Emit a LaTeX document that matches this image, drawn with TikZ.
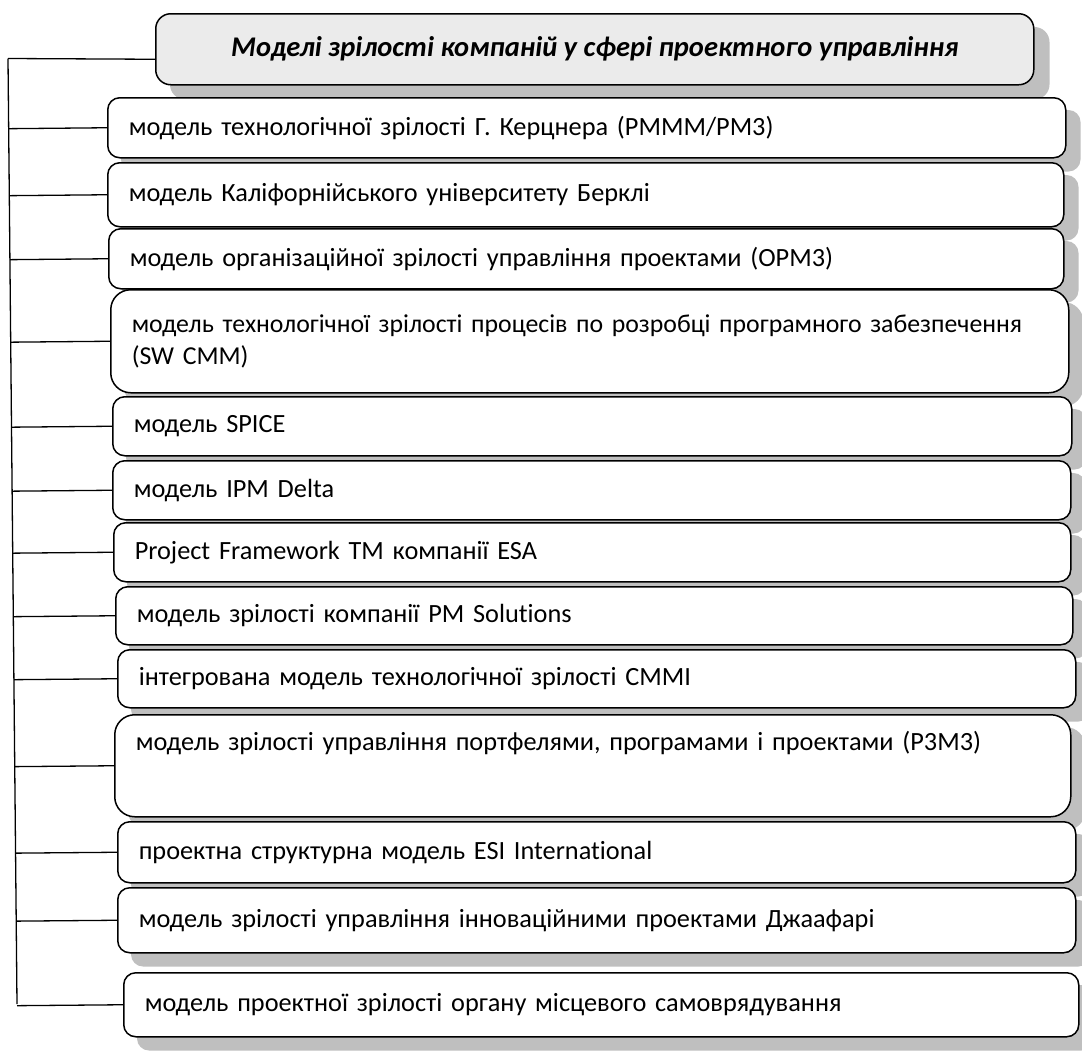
\documentclass[tikz,border=0pt]{standalone}
\usepackage{fontspec}
\setmainfont{Carlito}[Ligatures=NoCommon]
\usetikzlibrary{calc,backgrounds}
\definecolor{shadowgray}{HTML}{BFBFBF}
\definecolor{titlefill}{HTML}{EBEBEB}
\tikzset{
  itembox/.style={draw=black, line width=1.5pt, fill=white, rounded corners=12pt,
    align=left, inner xsep=21pt, inner ysep=0pt, anchor=north west,
    font=\fontsize{26.3}{32}\selectfont},
  tallbox/.style={itembox, rounded corners=20pt},
  titlebox/.style={draw=black, line width=1.5pt, fill=titlefill, rounded corners=15pt,
    align=center, inner sep=0pt, anchor=north west,
    font=\fontsize{28.5}{34}\selectfont\bfseries\itshape},
  conn/.style={draw=black, line width=1.3pt},
  shadowfill/.style={fill=shadowgray},
}
\newcommand{\itemnode}[7]{% style, name, left, top, right, bottom, text
  \pgfmathsetmacro{\bw}{#5-#3-42}
  \pgfmathsetmacro{\bh}{#6-#4}
  \node[#1, text width=\bw pt, minimum height=\bh pt] (#2) at (#3,#4) {#7};
}
\begin{document}
\begin{tikzpicture}[x=1pt,y=-1pt]
\useasboundingbox (0,0) rectangle (1082,1050);
% title
\node[titlebox, minimum width=878pt, minimum height=71pt] (title) at (155,13)
  {Моделі зрілості компаній у сфері проектного управління};
% boxes
\itemnode{itembox}{b1}{107}{97}{1065}{157}{модель технологічної зрілості Г. Керцнера (PMMM/PM3)}
\itemnode{itembox}{b2}{107}{162}{1063}{226}{модель Каліфорнійського університету Берклі}
\itemnode{itembox}{b3}{108}{228}{1063}{288}{модель організаційної зрілості управління проектами (OPM3)}
\itemnode{tallbox, font=\fontsize{25.8}{32}\selectfont}{b4}{110}{289}{1068}{392}{модель технологічної зрілості процесів по розробці програмного забезпечення\\(SW CMM)}
\itemnode{itembox}{b5}{112}{396}{1071}{455}{модель SPICE}
\itemnode{itembox}{b6}{112}{460}{1070}{519}{модель IPM Delta}
\itemnode{itembox}{b7}{113}{522}{1070}{581}{Project Framework TM компанії ESA}
\itemnode{itembox}{b8}{115}{586}{1072}{644}{модель зрілості компанії PM Solutions}
\itemnode{itembox}{b9}{117}{649}{1075}{707}{інтегрована модель технологічної зрілості CMMI}
\itemnode{tallbox}{b10}{114}{714}{1070}{816}{модель зрілості управління портфелями, програмами і проектами (P3M3)\\[8pt]\strut}
\itemnode{itembox}{b11}{117}{821}{1075}{882}{проектна структурна модель ESI International}
\itemnode{itembox}{b12}{117}{887}{1075}{952}{модель зрілості управління інноваційними проектами Джаафарі}
\itemnode{itembox}{b13}{123}{972}{1078}{1036}{модель проектної зрілості органу місцевого самоврядування}
% shadows
\begin{scope}[on background layer]
  \fill[shadowfill, rounded corners=15pt] ([shift={(15pt,-14pt)}]title.north west) rectangle ([shift={(15pt,-14pt)}]title.south east);
  \foreach \b in {b1,b2,b3,b5,b6,b7,b8,b9,b11,b12,b13}{
    \fill[shadowfill, rounded corners=12pt] ([shift={(14pt,-13pt)}]\b.north west) rectangle ([shift={(14pt,-13pt)}]\b.south east);
  }
  \foreach \b in {b4,b10}{
    \fill[shadowfill, rounded corners=20pt] ([shift={(14pt,-13pt)}]\b.north west) rectangle ([shift={(14pt,-13pt)}]\b.south east);
  }
\end{scope}
% spine and connectors
\coordinate (sT) at (8,58.5);
\coordinate (sB) at (17,1004);
\draw[conn] (sT) -- (sB);
\draw[conn] ([yshift=-10pt]title.west) -- (sT);
\foreach \b in {b1,b2,b3,b4,b5,b6,b7,b8,b9,b10,b11,b12,b13}{
  \draw[conn] (\b.west) -- ($(sT)!(\b.west)!(sB)$);
}
\end{tikzpicture}
\end{document}
